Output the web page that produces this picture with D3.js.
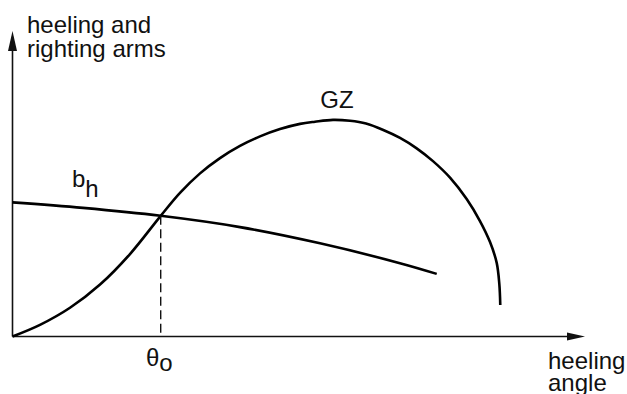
<!DOCTYPE html>
<html>
<head>
<meta charset="utf-8">
<script src="https://cdn.jsdelivr.net/npm/d3@7"></script>
<style>
  body { margin: 0; background: #fff; }
  svg text { font-family: "Liberation Sans", Arial, sans-serif; fill: #111; }
</style>
</head>
<body>
<svg></svg>
<script>
let width = 627;
let height = 394;

// heel angle (deg) and arm values (relative)
const gzAngle = [0, 4.32, 9.04, 13.76, 18.47, 23.3, 26.33, 29.48, 32.62, 35.76, 38.91, 42.05, 45.2, 47.55, 50.38, 53.06, 55.57, 58.29, 60.92, 63.54, 66.1, 68.78, 71.4, 73.49, 75.07, 76.12, 76.53, 76.68];
const gzArm = [0, 0.038, 0.094, 0.17, 0.27, 0.395, 0.47, 0.534, 0.584, 0.624, 0.655, 0.679, 0.696, 0.703, 0.709, 0.706, 0.697, 0.676, 0.65, 0.616, 0.574, 0.52, 0.45, 0.378, 0.309, 0.241, 0.172, 0.103];
const bhAngle = [0, 11.08, 23.3, 35.76, 48.34, 60.91, 66.69];
const bhArm = [0.439, 0.421, 0.395, 0.358, 0.305, 0.24, 0.205];
const theta0 = 23.3;
const theta0Arm = 0.395;

const svg = d3.select("svg")
  .attr("width", width)
  .attr("height", height);

//scales
const xScale = d3.scaleLinear().domain([0, 90]).range([12.5, 585]);
const yScale = d3.scaleLinear().domain([0, 1]).range([336.5, 31]);

//axes with arrows
svg.append("line")
  .attr("x1", xScale(0)).attr("y1", yScale(0))
  .attr("x2", xScale(90) - 10).attr("y2", yScale(0))
  .attr("stroke", "#111").attr("stroke-width", 1.6);
svg.append("line")
  .attr("x1", xScale(0)).attr("y1", yScale(0))
  .attr("x2", xScale(0)).attr("y2", yScale(1) + 10)
  .attr("stroke", "#111").attr("stroke-width", 1.6);

const xe = xScale(90), y0 = yScale(0);
svg.append("path")
  .attr("d", `M${xe},${y0} L${xe - 18},${y0 - 4} L${xe - 18},${y0 + 4} Z`)
  .attr("fill", "#111");
const x0 = xScale(0), ye = yScale(1);
svg.append("path")
  .attr("d", `M${x0},${ye} L${x0 - 4.5},${ye + 20} L${x0 + 4.5},${ye + 20} Z`)
  .attr("fill", "#111");

//curves
const line = d3.line()
  .x((d) => xScale(d[0]))
  .y((d) => yScale(d[1]))
  .curve(d3.curveCatmullRom.alpha(0.5));

svg.append("path")
  .datum(gzAngle.map((a, i) => [a, gzArm[i]]))
  .attr("d", line)
  .attr("fill", "none")
  .attr("stroke", "#000")
  .attr("stroke-width", 2.6);

svg.append("path")
  .datum(bhAngle.map((a, i) => [a, bhArm[i]]))
  .attr("d", line)
  .attr("fill", "none")
  .attr("stroke", "#000")
  .attr("stroke-width", 2.6);

//dashed line at theta0
svg.append("line")
  .attr("x1", xScale(theta0)).attr("x2", xScale(theta0))
  .attr("y1", yScale(theta0Arm)).attr("y2", yScale(0))
  .attr("stroke", "#111")
  .attr("stroke-width", 1.4)
  .attr("stroke-dasharray", "9,4.5");

//labels
const fs = 24;
const yLabel = svg.append("text").attr("font-size", fs);
yLabel.append("tspan").attr("x", 27).attr("y", 33).text("heeling and");
yLabel.append("tspan").attr("x", 27).attr("y", 57).text("righting arms");

svg.append("text").attr("font-size", fs)
  .attr("x", 548).attr("y", 369).text("heeling");
svg.append("text").attr("font-size", fs)
  .attr("x", 548).attr("y", 391).text("angle");

svg.append("text")
  .attr("font-size", fs)
  .attr("x", 337).attr("y", 108)
  .attr("text-anchor", "middle")
  .text("GZ");

const bh = svg.append("text").attr("font-size", fs).attr("x", 72).attr("y", 187);
bh.append("tspan").text("b");
bh.append("tspan").attr("dy", 10).text("h");

const th = svg.append("text").attr("font-size", fs).attr("x", 146).attr("y", 366);
th.append("tspan").text("θ");
th.append("tspan").attr("dy", 5).text("o");
</script>
</body>
</html>
